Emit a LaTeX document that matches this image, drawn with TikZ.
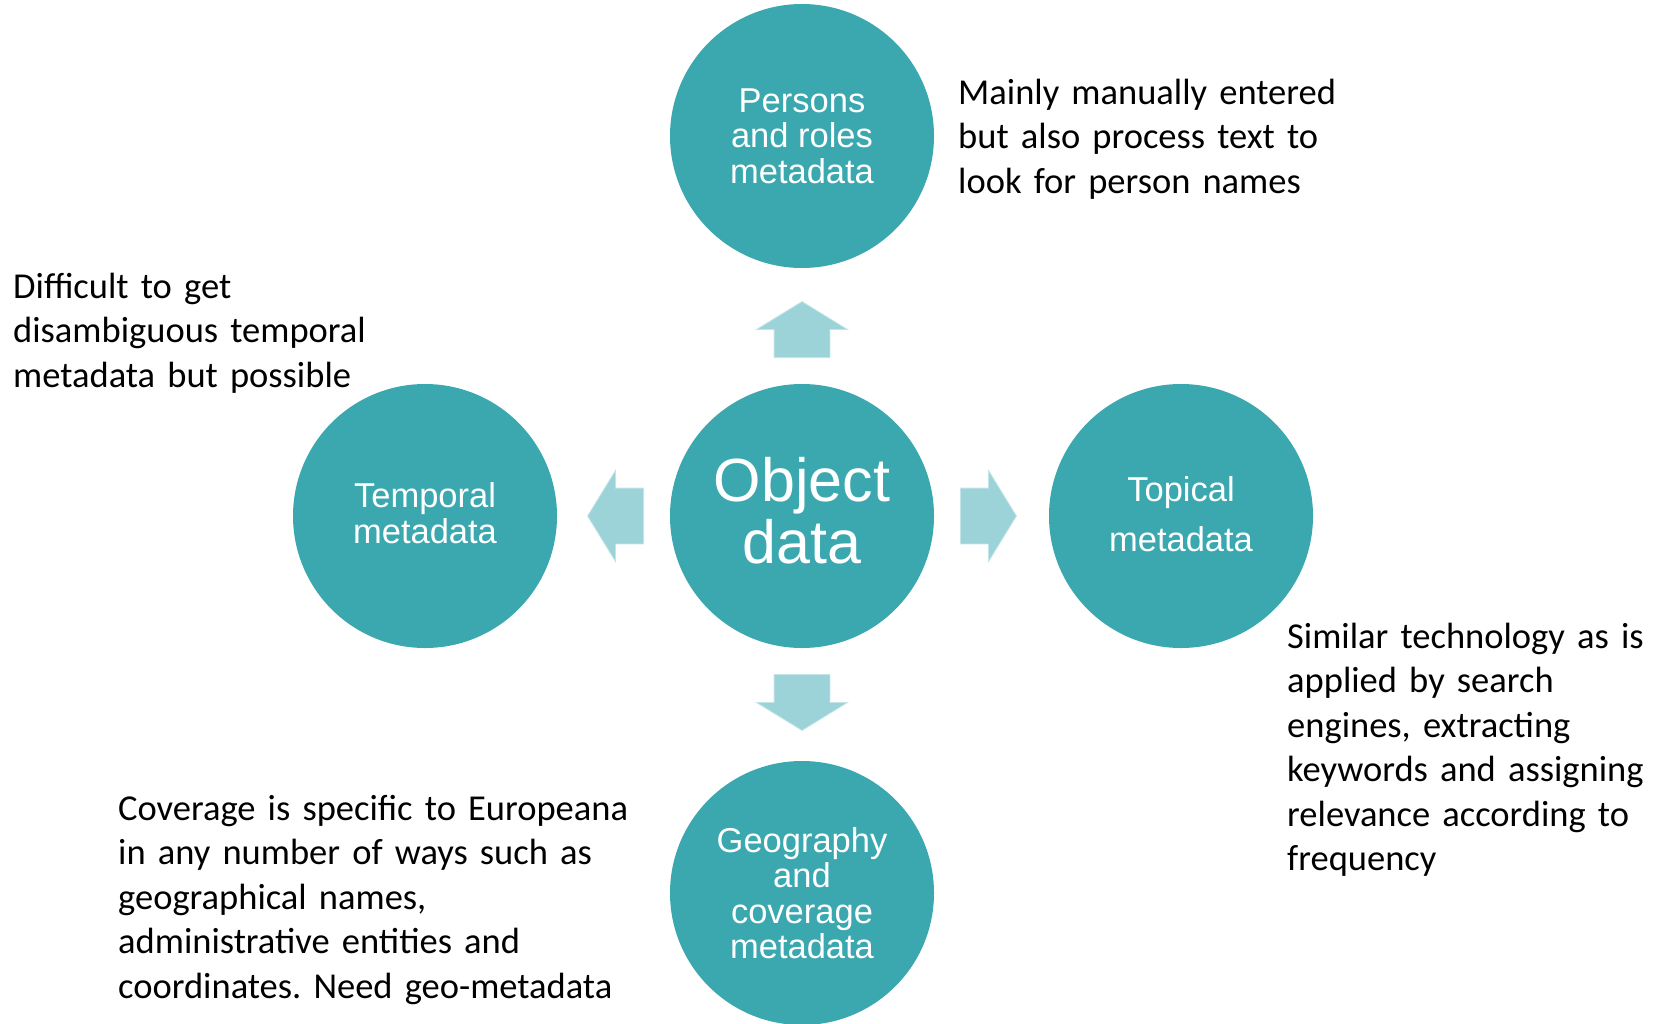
\documentclass[tikz,border=0pt]{standalone}
\usepackage{fontspec}
\setmainfont{Carlito}
\newfontfamily\circfont{Liberation Sans}
\usetikzlibrary{shapes.arrows,calc}
\definecolor{circteal}{RGB}{59,168,176}
\definecolor{arrowteal}{RGB}{155,211,216}
\frenchspacing
\tikzset{
  topic/.style={circle, fill=circteal, inner sep=0pt, minimum size=264pt,
    text=white, align=center, font=\circfont\fontsize{34.5}{35.5}\selectfont},
  blockarrow/.style={single arrow, anchor=tail, fill=arrowteal, draw=arrowteal!60!white,
    line width=0.8pt, inner xsep=0pt, inner ysep=27.5pt, minimum height=56pt,
    single arrow head extend=17.5pt, single arrow tip angle=117},
  note/.style={anchor=base west, inner sep=0pt, text width=560pt, align=left,
    font=\fontsize{36.5}{44.5}\selectfont},
}
\newcommand{\lowpad}[1]{\rule[-#1]{0pt}{0pt}}
\begin{document}
\begin{tikzpicture}[x=1pt, y=-1pt]
  \useasboundingbox (0,0) rectangle (1661,1023);
  \clip (0,0) rectangle (1661,1023);
  \node[topic, font=\circfont\fontsize{61}{62.5}\selectfont] (objdata) at (802,516) {Object\\data\lowpad{11pt}};
  \node[topic] (persons) at (802,136) {Persons\\and roles\\metadata};
  \node[topic] (temporal) at (425,516) {Temporal\\metadata\lowpad{6pt}};
  \node[topic, font=\circfont\fontsize{34.5}{50}\selectfont] (topical) at (1181,516) {Topical\\metadata\lowpad{4pt}};
  \node[topic] (geo) at (802,893) {Geography\\and\\coverage\\metadata};
  \node[blockarrow, rotate=90] (uparr) at ($(objdata)!158pt!(persons)$) {};
  \node[blockarrow, rotate=180] (leftarr) at ($(objdata)!158pt!(temporal)$) {};
  \node[blockarrow] (rightarr) at ($(objdata)!158pt!(topical)$) {};
  \node[blockarrow, rotate=-90] (downarr) at ($(objdata)!158pt!(geo)$) {};
  \node[note] (personsnote) at (958,104)
    {Mainly manually entered\\but also process text to\\look for person names};
  \node[note] (temporalnote) at (13,298)
    {Difficult to get\\disambiguous temporal\\metadata but possible};
  \node[note] (topicalnote) at (1287,648)
    {Similar technology as is\\applied by search\\engines, extracting\\keywords and assigning\\relevance according to\\frequency};
  \node[note] (geonote) at (118,820)
    {Coverage is specific to Europeana\\in any number of ways such as\\geographical names,\\administrative entities and\\coordinates. Need geo-metadata};
\end{tikzpicture}
\end{document}
